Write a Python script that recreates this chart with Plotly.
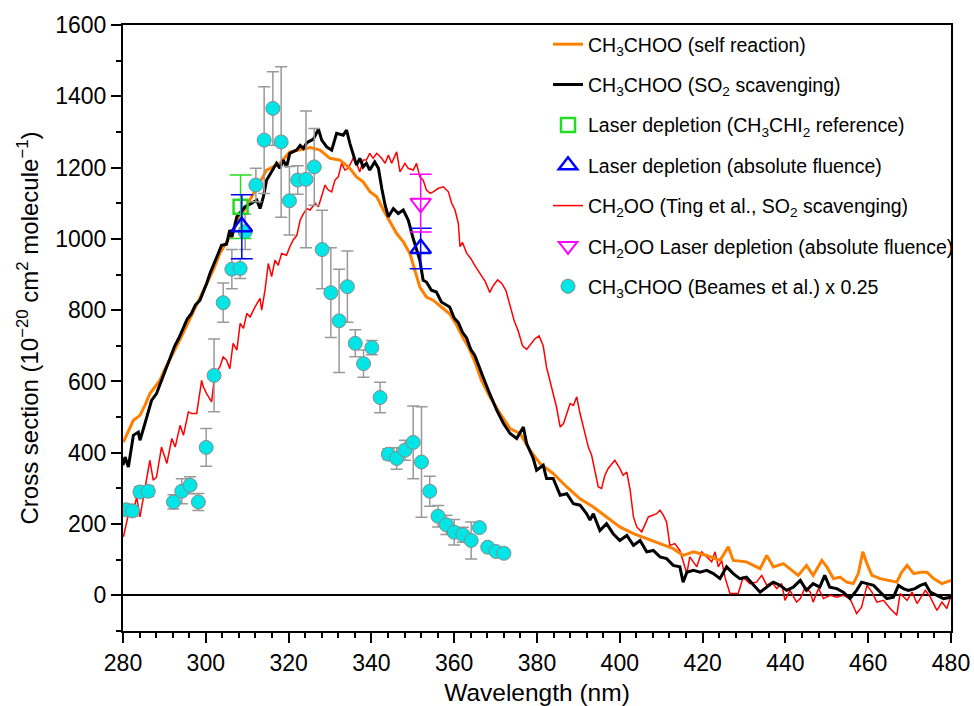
import plotly.graph_objects as go

# ---------------- data ----------------
wl_self = [280.1, 280.9, 282.5, 284.1, 285.3, 286.5, 287.7, 288.9, 290.0, 291.5, 293.0, 294.5, 296.0, 297.5,
           299.0, 300.5, 302.0, 303.4, 305.8, 308.3, 311.5, 314.7, 317.9, 320.3, 322.8, 325.2, 327.6, 330.0,
           332.4, 334.8, 336.4, 338.0, 339.7, 341.3, 342.9, 344.5, 346.1, 347.7, 349.3, 350.5, 351.7, 353.3,
           354.9, 356.9, 358.9, 360.5, 362.0, 363.5, 365.0, 366.6, 368.6, 371.1, 373.5, 375.9, 378.3, 380.7,
           383.9, 387.2, 390.4, 393.6, 396.8, 400.0, 403.3, 406.5, 409.7, 412.9, 415.3, 417.8, 421.0, 424.2,
           426.2, 427.4, 430.6, 433.9, 435.5, 437.1, 439.5, 443.1, 445.1, 446.7, 448.8, 450.0, 451.6, 453.2,
           454.8, 456.4, 457.6, 458.7, 459.7, 460.9, 462.9, 464.9, 466.9, 468.1, 469.4, 471.0, 472.6, 474.2,
           475.8, 477.8, 479.0, 480.0]
cs_self = [430, 449, 491, 505, 533, 566, 585, 603, 632, 668, 700, 735, 772, 808,
           845, 880, 918, 959, 1006, 1060, 1128, 1193, 1212, 1244, 1250, 1256, 1249, 1226,
           1221, 1198, 1174, 1160, 1132, 1118, 1081, 1048, 1015, 992, 959, 912, 865, 837,
           828, 809, 790, 760, 725, 695, 655, 603, 557, 510, 468, 454, 407, 370,
           342, 304, 271, 248, 220, 192, 173, 159, 145, 131, 112, 122, 112, 98,
           136, 98, 94, 75, 112, 80, 89, 56, 84, 56, 98, 80, 47, 51,
           37, 33, 61, 122, 89, 56, 47, 42, 37, 65, 84, 61, 65, 65,
           47, 33, 37, 42]

wl_so2 = [280.0, 280.5, 281.3, 282.5, 283.7, 284.1, 285.3, 286.1, 286.9, 288.1, 289.3, 290.5, 291.5, 292.5,
          293.5, 294.5, 295.5, 296.5, 297.5, 298.6, 299.4, 300.2, 301.0, 302.2, 303.0, 303.8, 305.0, 305.8,
          306.3, 307.5, 309.5, 311.1, 312.3, 313.1, 313.9, 314.7, 315.9, 317.1, 317.9, 318.7, 319.5, 320.3,
          321.9, 322.8, 323.6, 324.4, 326.0, 327.2, 328.0, 329.2, 330.4, 331.6, 333.2, 334.0, 334.8, 335.6,
          336.4, 337.2, 338.0, 338.8, 339.6, 340.8, 341.7, 342.5, 343.3, 344.1, 345.3, 346.5, 347.7, 348.9,
          350.1, 351.7, 352.5, 353.3, 354.5, 355.7, 356.9, 358.9, 360.0, 361.0, 362.0, 363.0, 364.0, 365.0,
          366.0, 367.0, 368.6, 370.3, 371.9, 373.5, 375.1, 376.7, 377.5, 379.1, 379.9, 381.5, 382.3, 383.9,
          385.6, 387.2, 388.8, 390.4, 392.0, 392.8, 393.6, 395.2, 396.8, 398.4, 400.0, 401.7, 403.3, 404.9,
          406.5, 408.1, 409.7, 411.3, 412.9, 414.5, 415.3, 416.2, 417.8, 419.4, 421.0, 422.6, 424.2, 425.8,
          427.4, 429.0, 430.6, 432.3, 433.9, 435.5, 437.1, 438.7, 440.3, 441.9, 443.6, 445.1, 446.7, 448.3,
          449.5, 450.7, 452.4, 454.0, 455.6, 457.2, 458.4, 459.7, 461.3, 462.9, 464.5, 466.1, 467.3, 468.5,
          469.7, 471.3, 472.6, 473.8, 475.0, 476.6, 478.2, 480.0]
cs_so2 = [365, 388, 360, 449, 458, 435, 482, 515, 547, 566, 603, 640, 665, 700,
          722, 748, 775, 790, 815, 828, 850, 875, 903, 940, 959, 982, 985, 1025,
          1005, 1062, 1090, 1100, 1109, 1085, 1118, 1165, 1188, 1212, 1198, 1221, 1202, 1240,
          1249, 1262, 1254, 1270, 1280, 1308, 1277, 1258, 1249, 1296, 1291, 1305, 1268, 1240,
          1207, 1226, 1202, 1212, 1193, 1216, 1198, 1142, 1095, 1062, 1085, 1071, 1081, 1053,
          1001, 940, 884, 879, 856, 851, 823, 809, 778, 765, 738, 722, 690, 672,
          640, 612, 565, 519, 482, 454, 440, 472, 426, 384, 351, 365, 328, 328,
          281, 285, 257, 253, 229, 211, 229, 182, 201, 173, 154, 168, 140, 154,
          122, 126, 108, 103, 84, 80, 37, 65, 70, 65, 70, 61, 47, 80,
          61, 47, 51, 28, 9, 23, 37, 28, 14, 23, 42, 14, 33, 23,
          56, 23, 19, 9, -9, 14, 37, 33, 28, 9, -9, -5, 28, 19,
          14, 19, 28, 33, 9, 0, -9, -5]

wl_ting = [280.1, 280.9, 281.7, 282.5, 283.3, 284.1, 284.9, 285.7, 286.5, 287.3, 288.1, 289.3, 290.6, 291.8,
           292.6, 293.8, 294.6, 295.8, 296.6, 297.8, 299.0, 299.4, 300.2, 301.4, 302.2, 303.4, 304.2, 305.0,
           305.8, 306.6, 307.5, 308.3, 309.1, 309.9, 310.7, 311.9, 313.1, 313.5, 314.3, 315.1, 315.9, 316.7,
           317.5, 318.3, 319.5, 320.3, 321.1, 322.0, 322.8, 323.6, 324.4, 325.2, 326.4, 327.2, 328.0, 328.8,
           329.6, 330.4, 331.2, 332.0, 332.8, 333.6, 334.4, 335.6, 336.4, 337.2, 338.0, 338.8, 339.6, 340.4,
           341.3, 342.5, 343.3, 344.1, 344.9, 346.1, 346.9, 348.1, 348.9, 350.1, 350.9, 351.7, 352.5, 353.3,
           354.2, 354.9, 356.2, 357.4, 358.6, 359.4, 360.2, 361.0, 361.4, 362.0, 363.0, 364.0, 365.0, 366.2,
           367.5, 368.6, 369.5, 370.5, 371.5, 372.5, 373.5, 374.5, 375.5, 376.5, 377.5, 378.5, 379.5, 380.5,
           381.5, 382.3, 383.1, 383.9, 384.7, 385.6, 386.4, 387.2, 388.0, 388.8, 389.6, 390.4, 391.2, 392.4,
           393.2, 394.0, 394.8, 395.6, 396.4, 397.2, 398.8, 400.0, 400.8, 401.7, 402.5, 403.3, 404.1, 405.3,
           406.9, 408.9, 409.7, 410.5, 411.3, 412.1, 413.3, 414.5, 415.3, 416.2, 416.9, 417.8, 418.6, 419.8,
           421.0, 422.2, 423.0, 423.8, 424.6, 425.4, 426.6, 428.6, 429.8, 431.4, 433.0, 434.3, 435.5, 436.7,
           437.9, 439.1, 439.9, 441.1, 442.7, 443.6, 444.8, 446.0, 446.7, 448.0, 449.2, 450.8, 452.4, 454.0,
           455.6, 457.2, 458.4, 459.7, 460.9, 462.1, 463.7, 465.3, 466.9, 467.7, 469.4, 470.6, 471.8, 473.8,
           475.0, 476.6, 477.8, 479.0, 480.0]
cs_ting = [164, 211, 248, 234, 276, 220, 276, 323, 379, 323, 332, 416, 370, 440,
           416, 477, 449, 515, 510, 510, 603, 585, 566, 543, 622, 641, 669, 660,
           636, 707, 688, 763, 749, 791, 781, 809, 833, 800, 856, 931, 894, 940,
           926, 959, 954, 978, 997, 1010, 1053, 1071, 1085, 1081, 1100, 1090, 1118, 1151,
           1137, 1132, 1165, 1174, 1212, 1193, 1198, 1226, 1212, 1188, 1221, 1221, 1240, 1226,
           1240, 1226, 1212, 1235, 1212, 1244, 1188, 1212, 1198, 1193, 1212, 1174, 1165, 1137,
           1128, 1132, 1142, 1146, 1132, 1100, 1081, 1043, 978, 990, 960, 945, 925, 905,
           880, 850, 870, 885, 875, 855, 810, 770, 740, 700, 690, 705, 720, 728,
           700, 640, 603, 566, 529, 472, 482, 510, 538, 533, 557, 510, 472, 416,
           393, 351, 304, 300, 337, 356, 379, 356, 337, 346, 295, 220, 192, 178,
           220, 229, 239, 225, 206, 140, 145, 126, 98, 61, 108, 94, 80, 122,
           108, 94, 122, 80, 98, 51, 5, 5, 51, 33, 37, 56, 28, 37,
           19, 33, -14, 14, -19, -9, 23, 9, -19, 19, -9, 0, -5, 0,
           -9, -51, -33, 28, 9, -19, -14, -37, -56, 5, -14, 9, -23, 14,
           -5, -42, -19, -37, 0]

beames_wl = [280.8, 282.3, 284.1, 286.1, 292.2, 294.2, 296.2, 298.2, 300.1, 302.0, 304.2, 306.3, 308.3,
             309.5, 312.1, 314.1, 316.2, 318.2, 320.2, 322.2, 324.2, 326.2, 328.1, 330.2, 332.2, 334.2,
             336.1, 338.1, 340.1, 342.1, 344.1, 346.1, 348.1, 350.1, 352.1, 354.1, 356.1, 358.1, 360.0,
             362.1, 364.1, 366.1, 368.1, 370.1, 372.0]
beames_cs = [240, 237, 290, 292, 262, 292, 309, 262, 415, 617, 821, 915, 917,
             1020, 1151, 1277, 1366, 1272, 1107, 1165, 1167, 1202, 970, 849, 770, 866,
             707, 650, 695, 555, 396, 384, 407, 429, 374, 292, 222, 198, 177,
             170, 154, 190, 135, 123, 118]
beames_err = [15, 15, 15, 15, 20, 35, 24, 24, 53, 102, 55, 55, 28,
              50, 47, 150, 103, 211, 96, 40, 192, 108, 110, 126, 145, 100,
              38, 38, 20, 43, 15, 30, 28, 102, 155, 42, 30, 27, 36,
              21, 52, 10, 8, 10, 8]

ref_wl = [308.4]
ref_cs = [1090]
ref_err = [89]

abs_wl = [308.7, 351.9]
abs_cs = [1034, 973]
abs_err = [90, 57]

ch2oo_wl = [351.9]
ch2oo_cs = [1100]
ch2oo_err = [81]

names = ["CH<sub>3</sub>CHOO (self reaction)",
         "CH<sub>3</sub>CHOO (SO<sub>2</sub> scavenging)",
         "Laser depletion (CH<sub>3</sub>CHI<sub>2</sub> reference)",
         "Laser depletion (absolute fluence)",
         "CH<sub>2</sub>OO (Ting et al., SO<sub>2</sub> scavenging)",
         "CH<sub>2</sub>OO Laser depletion (absolute fluence)",
         "CH<sub>3</sub>CHOO (Beames et al.) x 0.25"]

# ---------------- figure ----------------
fig = go.Figure()

fig.add_trace(go.Scatter(x=wl_ting, y=cs_ting, mode="lines", name=names[4],
                         line=dict(color="#ff0000", width=1.5), legendrank=5, legendgroup="g5"))
fig.add_trace(go.Scatter(x=wl_self, y=cs_self, mode="lines", name=names[0],
                         line=dict(color="#ff8000", width=3), legendrank=1, legendgroup="g1"))
fig.add_trace(go.Scatter(x=wl_so2, y=cs_so2, mode="lines", name=names[1],
                         line=dict(color="#000000", width=3), legendrank=2, legendgroup="g2"))
fig.add_trace(go.Scatter(x=beames_wl, y=beames_cs, mode="markers", name=names[6],
                         marker=dict(symbol="circle", size=14, color="#00e6e6",
                                     line=dict(color="#8a8a8a", width=1)),
                         error_y=dict(type="data", array=beames_err, color="#999999",
                                      thickness=1.5, width=6),
                         legendrank=7, legendgroup="g7"))
fig.add_trace(go.Scatter(x=ref_wl, y=ref_cs, mode="markers", name=names[2],
                         marker=dict(symbol="square-open", size=14, color="#22dd22",
                                     line=dict(color="#22dd22", width=2.5)),
                         error_y=dict(type="data", array=ref_err, color="#22dd22",
                                      thickness=1.5, width=11),
                         legendrank=3, legendgroup="g3"))
fig.add_trace(go.Scatter(x=abs_wl, y=abs_cs, mode="markers", name=names[3],
                         marker=dict(symbol="triangle-up-open", size=18, color="#0000ff",
                                     line=dict(color="#0000ff", width=2.5)),
                         error_y=dict(type="data", array=abs_err, color="#0000ff",
                                      thickness=1.5, width=11),
                         legendrank=4, legendgroup="g4"))
fig.add_trace(go.Scatter(x=ch2oo_wl, y=ch2oo_cs, mode="markers", name=names[5],
                         marker=dict(symbol="triangle-down-open", size=18, color="#ff00ff",
                                     line=dict(color="#ff00ff", width=2)),
                         error_y=dict(type="data", array=ch2oo_err, color="#ff00ff",
                                      thickness=1.5, width=11),
                         legendrank=6, legendgroup="g6"))

font_family = "Liberation Sans, Arial, sans-serif"

fig.update_layout(
    width=974, height=706,
    margin=dict(l=123, r=23, t=25, b=75, autoexpand=False),
    paper_bgcolor="white", plot_bgcolor="white",
    font=dict(family=font_family, size=22, color="black"),
    legend=dict(x=0.5133, y=1.0, xanchor="left", yanchor="top",
                bgcolor="rgba(0,0,0,0)", font=dict(size=19.5, family=font_family),
                tracegroupgap=12, itemwidth=30),
    showlegend=True,
)

fig.update_xaxes(range=[280, 480], tick0=280, dtick=20,
                 ticks="outside", ticklen=10, tickwidth=2, tickcolor="black",
                 minor=dict(dtick=4, ticks="outside", ticklen=5, tickwidth=2, tickcolor="black"),
                 showline=True, linewidth=2, linecolor="black", mirror=True,
                 showgrid=False, zeroline=False,
                 title=dict(text="Wavelength (nm)", font=dict(size=24.5), standoff=12),
                 tickfont=dict(size=23))
fig.update_yaxes(range=[-100, 1600], tick0=0, dtick=200,
                 ticks="outside", ticklen=10, tickwidth=2, tickcolor="black",
                 minor=dict(dtick=100, ticks="outside", ticklen=5, tickwidth=2, tickcolor="black"),
                 showline=True, linewidth=2, linecolor="black", mirror=True,
                 showgrid=False, zeroline=True, zerolinecolor="black", zerolinewidth=2,
                 title=dict(text="Cross section (10<sup>\u221220</sup> cm<sup>2</sup> molecule<sup>\u22121</sup>)",
                            font=dict(size=24), standoff=10),
                 tickfont=dict(size=23))

fig.write_html("out.html")
